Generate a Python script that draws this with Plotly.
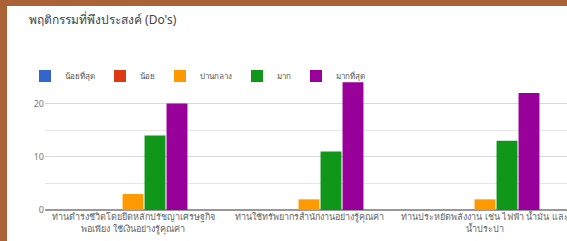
import plotly.graph_objects as go

categories = [
    "ท่านดำรงชีวิตโดยยึดหลักปรัชญาเศรษฐกิจ<br>พอเพียง ใช้เงินอย่างรู้คุณค่า",
    "ท่านใช้ทรัพยากรสำนักงานอย่างรู้คุณค่า",
    "ท่านประหยัดพลังงาน เช่น ไฟฟ้า น้ำมัน และ<br>น้ำประปา",
]
series_names = ["น้อยที่สุด", "น้อย", "ปานกลาง", "มาก", "มากที่สุด"]
series_colors = ["#3366cc", "#dc3912", "#ff9900", "#109618", "#990099"]
values_least = [0, 0, 0]
values_little = [0, 0, 0]
values_medium = [3, 2, 2]
values_much = [14, 11, 13]
values_most = [20, 24, 22]
all_values = [values_least, values_little, values_medium, values_much, values_most]

title_text = "พฤติกรรมที่พึงประสงค์ (Do's)"
FONT = "Noto Sans, DejaVu Sans, sans-serif"

fig = go.Figure()
for name, color, vals in zip(series_names, series_colors, all_values):
    fig.add_trace(go.Bar(x=categories, y=vals, name=name, marker_color=color,
                         marker_line_width=0))

W, H = 567, 241
L, R, T, B = 45, 0, 77, 31
pw, ph = W - L - R, H - T - B

def px_x(x):
    return (x - L) / pw

def px_y(y):
    return (H - B - y) / ph

fig.update_layout(
    width=W, height=H,
    margin=dict(l=L, r=R, t=T, b=B, autoexpand=False),
    paper_bgcolor="white", plot_bgcolor="white",
    barmode="group", bargap=0.375, bargroupgap=0.05,
    font=dict(family=FONT, size=9, color="#666"),
    showlegend=True,
    legend=dict(orientation="h", x=px_x(25), xanchor="left", y=px_y(76), yanchor="middle",
                font=dict(size=8, color="#555"), itemwidth=30, bgcolor="rgba(0,0,0,0)",
                borderwidth=0, traceorder="normal"),
    xaxis=dict(range=[-0.5, -0.5 + pw / 176], showgrid=False, showline=False,
               ticks="", tickfont=dict(size=9, color="#666"), automargin=False),
    yaxis=dict(range=[0, 25], dtick=10, tick0=0, showgrid=True, gridcolor="#d9d9d9",
               minor=dict(dtick=5, showgrid=True, gridcolor="#e6e6e6"),
               zeroline=True, zerolinecolor="#999", zerolinewidth=2,
               tickfont=dict(size=9, color="#777"), ticks="", automargin=False),
    annotations=[dict(text=title_text, xref="paper", yref="paper", x=px_x(27), y=px_y(20),
                      xanchor="left", yanchor="middle", showarrow=False,
                      font=dict(size=12, color="#444", family=FONT))],
    shapes=[
        dict(type="rect", xref="paper", yref="paper", x0=px_x(0), x1=px_x(W), y0=px_y(6), y1=px_y(0),
             fillcolor="#ab6236", line_width=0, layer="above"),
        dict(type="rect", xref="paper", yref="paper", x0=px_x(0), x1=px_x(7), y0=px_y(H), y1=px_y(0),
             fillcolor="#ab6236", line_width=0, layer="above"),
    ],
)

fig.write_html(
    "out.html",
    config={"displayModeBar": False},
    post_script="document.body.style.margin='0';document.body.style.overflow='hidden';",
)
